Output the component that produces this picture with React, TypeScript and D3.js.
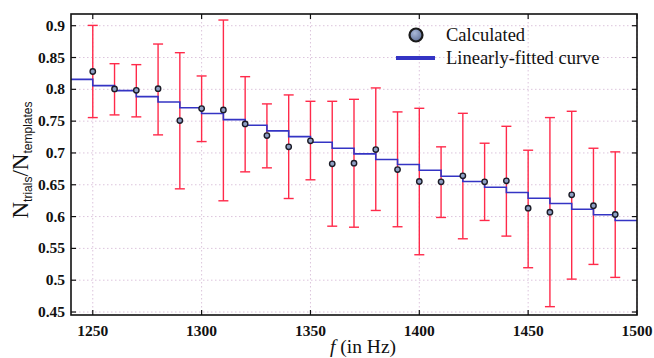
import React from "react";
import * as d3 from "d3";

const freqs = [1250, 1260, 1270, 1280, 1290, 1300, 1310, 1320, 1330, 1340, 1350, 1360, 1370, 1380, 1390, 1400, 1410, 1420, 1430, 1440, 1450, 1460, 1470, 1480, 1490];
const calculated = [0.828, 0.8006, 0.7984, 0.801, 0.7509, 0.7697, 0.7677, 0.7457, 0.7273, 0.7096, 0.719, 0.6829, 0.6839, 0.7053, 0.6739, 0.6551, 0.6546, 0.664, 0.6546, 0.6562, 0.6132, 0.6069, 0.6342, 0.617, 0.6033];
const upper = [0.9005, 0.8403, 0.8388, 0.8712, 0.8576, 0.821, 0.9089, 0.8199, 0.7771, 0.7912, 0.7812, 0.7812, 0.7843, 0.8022, 0.7645, 0.7702, 0.7096, 0.7623, 0.7153, 0.7419, 0.7043, 0.7556, 0.7655, 0.7074, 0.7017];
const lower = [0.7556, 0.7598, 0.7567, 0.7284, 0.6436, 0.7179, 0.6248, 0.6703, 0.6766, 0.6284, 0.6578, 0.5849, 0.5833, 0.6096, 0.584, 0.54, 0.5986, 0.5651, 0.5939, 0.5693, 0.5196, 0.4584, 0.5017, 0.5248, 0.5044];

const fitFreqs = [1240, 1250, 1260, 1270, 1280, 1290, 1300, 1310, 1320, 1330, 1340, 1350, 1360, 1370, 1380, 1390, 1400, 1410, 1420, 1430, 1440, 1450, 1460, 1470, 1480, 1490, 1500];
const fitValues = [0.8157, 0.8058, 0.798, 0.7885, 0.78, 0.771, 0.762, 0.7524, 0.7435, 0.7347, 0.7257, 0.7168, 0.7074, 0.6986, 0.6896, 0.6818, 0.6728, 0.6634, 0.6551, 0.6462, 0.6378, 0.6289, 0.6206, 0.6116, 0.6028, 0.5939, 0.5939];

const xTicks = [1250, 1300, 1350, 1400, 1450, 1500];
const yTicks = [0.45, 0.5, 0.55, 0.6, 0.65, 0.7, 0.75, 0.8, 0.85, 0.9];
const yTickLabels = ["0.45", "0.5", "0.55", "0.6", "0.65", "0.7", "0.75", "0.8", "0.85", "0.9"];

const W = 654;
const H = 358;
const L = 71, R = 637, T = 14, B = 315;

export default function App() {
  const x = d3.scaleLinear().domain([1240, 1500]).range([L, R]);
  const y = d3.scaleLinear().domain([0.4453, 0.9184]).range([B, T]);

  const stepLine = d3
    .line<number>()
    .x((_, i) => x(fitFreqs[i]))
    .y((d) => y(d))
    .curve(d3.curveStepAfter);

  const tickLen = 5;
  const serif = "'Liberation Serif', 'DejaVu Serif', serif";
  const sans = "'Liberation Sans', Arial, sans-serif";
  const cap = 5;

  return (
    <svg
      width={W}
      height={H}
      style={{ position: "absolute", left: 0, top: 0, background: "#fff" }}
    >
      <defs>
        <radialGradient id="mk" cx="40%" cy="35%" r="70%">
          <stop offset="0%" stopColor="#a9b8d8" />
          <stop offset="100%" stopColor="#5e6f98" />
        </radialGradient>
      </defs>
      {/* grid */}
      <g stroke="#dcc4dc" strokeWidth={1} strokeDasharray="1.5,2.5">
        {xTicks.map((t) => (
          <line key={"gx" + t} x1={x(t)} x2={x(t)} y1={T} y2={B} />
        ))}
        {yTicks.map((t) => (
          <line key={"gy" + t} x1={L} x2={R} y1={y(t)} y2={y(t)} />
        ))}
      </g>

      {/* error bars */}
      <g stroke="#ff2a4a" strokeWidth={1.4} fill="none">
        {freqs.map((f, i) => (
          <g key={"e" + f}>
            <line x1={x(f)} x2={x(f)} y1={y(upper[i])} y2={y(lower[i])} />
            <line x1={x(f) - cap} x2={x(f) + cap} y1={y(upper[i])} y2={y(upper[i])} />
            <line x1={x(f) - cap} x2={x(f) + cap} y1={y(lower[i])} y2={y(lower[i])} />
          </g>
        ))}
      </g>

      {/* fitted step curve */}
      <path d={stepLine(fitValues) || ""} fill="none" stroke="#3434c4" strokeWidth={1.6} />

      {/* calculated points */}
      <g>
        {freqs.map((f, i) => (
          <circle
            key={"p" + f}
            cx={x(f)}
            cy={y(calculated[i])}
            r={2.7}
            fill="#8ea0c4"
            stroke="#1c1c28"
            strokeWidth={1.4}
          />
        ))}
      </g>

      {/* frame */}
      <rect x={L} y={T} width={R - L} height={B - T} fill="none" stroke="#111" strokeWidth={1.6} />

      {/* ticks */}
      <g stroke="#111" strokeWidth={1.2}>
        {xTicks.map((t) => (
          <g key={"tx" + t}>
            <line x1={x(t)} x2={x(t)} y1={B} y2={B - tickLen} />
            <line x1={x(t)} x2={x(t)} y1={T} y2={T + tickLen} />
          </g>
        ))}
        {yTicks.map((t) => (
          <g key={"ty" + t}>
            <line x1={L} x2={L + tickLen} y1={y(t)} y2={y(t)} />
            <line x1={R} x2={R - tickLen} y1={y(t)} y2={y(t)} />
          </g>
        ))}
      </g>

      {/* tick labels */}
      <g fontFamily={serif} fontWeight="bold" fontSize={15.5} fill="#111">
        {xTicks.map((t) => (
          <text key={"lx" + t} x={x(t)} y={336} textAnchor="middle">
            {t}
          </text>
        ))}
        {yTicks.map((t, i) => (
          <text key={"ly" + t} x={65} y={y(t) + 5} textAnchor="end">
            {yTickLabels[i]}
          </text>
        ))}
      </g>

      {/* x label */}
      <text x={363} y={353} textAnchor="middle" fontFamily={serif} fontSize={19.5} fill="#111" xmlSpace="preserve">
        <tspan fontStyle="italic">f</tspan>
        <tspan dx={5}>(in Hz)</tspan>
      </text>

      {/* y label */}
      <text
        transform={`translate(28, 160) rotate(-90)`}
        textAnchor="middle"
        fill="#111"
      >
        <tspan fontFamily={serif} fontSize={23}>N</tspan>
        <tspan fontFamily={sans} fontSize={12} dy={4}>trials</tspan>
        <tspan fontFamily={serif} fontSize={23} dy={-4}>/N</tspan>
        <tspan fontFamily={sans} fontSize={12} dy={4}>templates</tspan>
      </text>

      {/* legend */}
      <circle cx={416} cy={35} r={6.5} fill="url(#mk)" stroke="#1a1a1a" strokeWidth={2.2} />
      <text x={446} y={41} fontFamily={serif} fontSize={18.5} fill="#111">
        Calculated
      </text>
      <line x1={396} x2={435} y1={58} y2={58} stroke="#3434c4" strokeWidth={4} />
      <text x={446} y={64} fontFamily={serif} fontSize={18.5} fill="#111">
        Linearly-fitted curve
      </text>
    </svg>
  );
}
